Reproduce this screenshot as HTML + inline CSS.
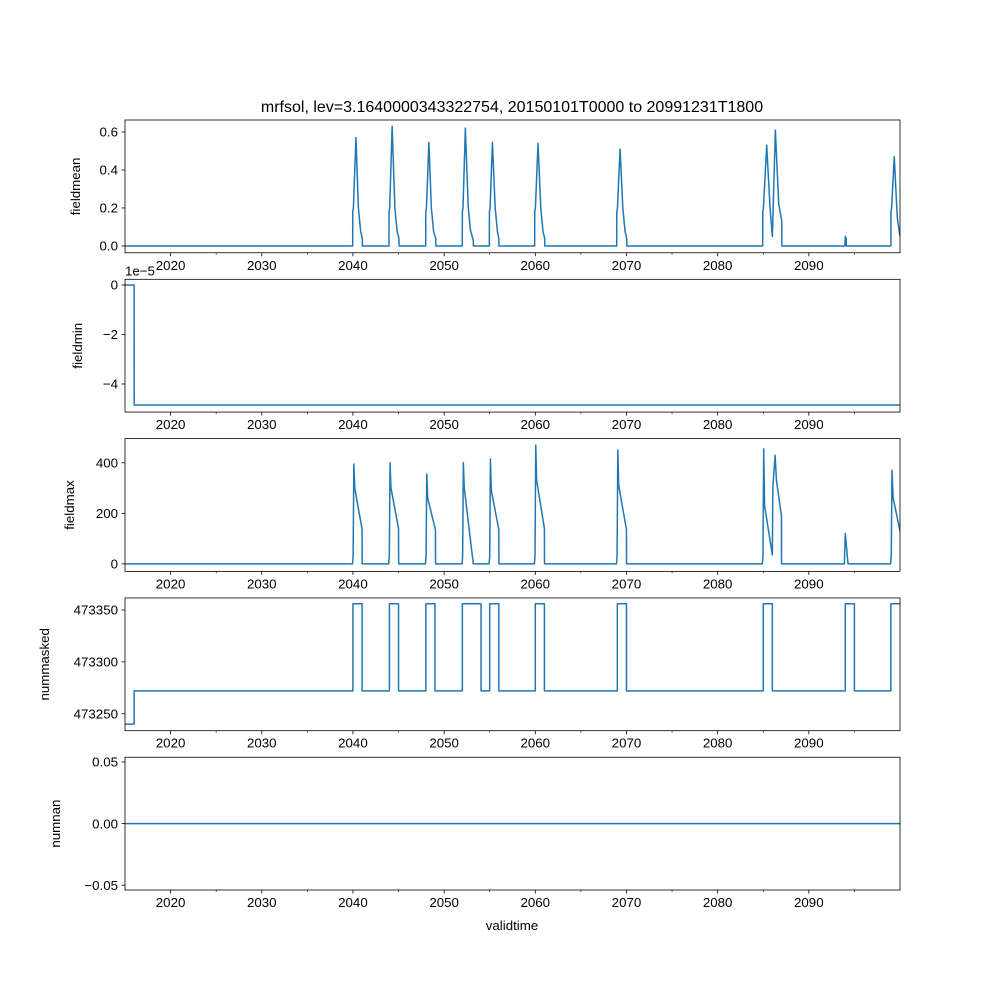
<!DOCTYPE html>
<html><head><meta charset="utf-8"><style>
body{margin:0;background:#fff}
svg{font-family:"Liberation Sans","DejaVu Sans",sans-serif}
</style></head><body>
<svg id="fig" width="1000" height="1000" xmlns="http://www.w3.org/2000/svg">
<text x="512" y="112" text-anchor="middle" font-size="16">mrfsol, lev=3.1640000343322754, 20150101T0000 to 20991231T1800</text>
<text x="512" y="930" text-anchor="middle" font-size="13.3">validtime</text>
</svg>
<script>
// ---- data ----
const xTickYears = [2020, 2030, 2040, 2050, 2060, 2070, 2080, 2090];
const xMinorYears = [2025, 2035, 2045, 2055, 2065, 2075, 2085, 2095];
const panelNames = ["fieldmean", "fieldmin", "fieldmax", "nummasked", "numnan"];
const meanYears = [2015,2039.97,2039.98,2040.05,2040.33,2040.6,2040.85,2041.03,2041.04,
 2043.95,2043.96,2044.03,2044.3,2044.6,2044.85,2045.05,2045.06,
 2047.98,2047.99,2048.06,2048.33,2048.6,2048.85,2049.08,2049.09,
 2051.99,2052.0,2052.07,2052.33,2052.65,2052.9,2053.2,2053.21,
 2054.96,2054.97,2055.04,2055.3,2055.6,2055.85,2056.0,2056.01,
 2059.93,2059.94,2060.01,2060.3,2060.6,2060.85,2061.03,2061.04,
 2068.93,2068.94,2069.01,2069.3,2069.6,2069.85,2070.03,2070.04,
 2084.94,2084.95,2085.02,2085.38,2085.75,2086.0,2086.33,2086.7,2087.03,2087.04,
 2093.95,2094.0,2094.1,2094.11,
 2099.0,2099.01,2099.08,2099.37,2099.7,2100.0];
const meanValues = [0,0,0.18,0.2,0.57,0.2,0.075,0.04,0,
 0,0.18,0.2,0.63,0.2,0.075,0.04,0,
 0,0.18,0.2,0.545,0.2,0.075,0.04,0,
 0,0.18,0.2,0.62,0.2,0.08,0.03,0,
 0,0.18,0.2,0.545,0.2,0.075,0.04,0,
 0,0.18,0.2,0.54,0.2,0.075,0.04,0,
 0,0.18,0.2,0.51,0.2,0.075,0.04,0,
 0,0.18,0.2,0.53,0.2,0.05,0.61,0.22,0.13,0,
 0,0.05,0.04,0,
 0,0.18,0.2,0.47,0.15,0.05];
const minYears = [2015, 2016.0, 2016.01, 2100];
const minValues = [0, 0, -4.85, -4.85];
const maxYears = [2015,2039.95,2040.02,2040.1,2040.2,2041.0,2041.01,
 2043.92,2043.99,2044.07,2044.17,2045.0,2045.01,
 2047.95,2048.02,2048.1,2048.2,2049.05,2049.06,
 2051.96,2052.03,2052.11,2052.21,2053.2,2053.21,
 2054.93,2055.0,2055.08,2055.18,2056.0,2056.01,
 2059.9,2059.97,2060.05,2060.15,2061.0,2061.01,
 2068.9,2068.97,2069.05,2069.15,2070.0,2070.01,
 2084.9,2084.97,2085.05,2085.15,2086.0,2086.05,2086.3,2086.45,2087.0,2087.01,
 2093.9,2094.0,2094.3,2094.31,
 2098.97,2099.04,2099.12,2099.25,2100.0];
const maxValues = [0,0,30,395,300,137,0,
 0,30,400,300,140,0,
 0,30,355,260,135,0,
 0,30,400,300,0,0,
 0,30,415,290,135,0,
 0,30,470,330,140,0,
 0,30,450,310,135,0,
 0,30,455,230,35,300,430,330,190,0,
 0,120,0,0,
 0,30,370,260,130];
const maskedYears = [2015,2016.0,2016.0,2040.0,2040.0,2041.0,2041.0,2044.0,2044.0,2045.0,2045.0,2048.0,2048.0,2049.0,2049.0,2052.0,2052.0,2054.05,2054.05,2055.0,2055.0,2056.0,2056.0,2060.0,2060.0,2061.0,2061.0,2069.0,2069.0,2070.0,2070.0,2085.0,2085.0,2086.0,2086.0,2094.0,2094.0,2095.0,2095.0,2099.0,2099.0,2100];
const maskedValues = [473240,473240,473272,473272,473356,473356,473272,473272,473356,473356,473272,473272,473356,473356,473272,473272,473356,473356,473272,473272,473356,473356,473272,473272,473356,473356,473272,473272,473356,473356,473272,473272,473356,473356,473272,473272,473356,473356,473272,473272,473356,473356];
const nanYears = [2015, 2100];
const nanValues = [0, 0];
const yTicks = [[0.0,0.2,0.4,0.6],[-4,-2,0],[0,200,400],[473250,473300,473350],[-0.05,0.00,0.05]];
const yTickLabels = [["0.0","0.2","0.4","0.6"],["−4","−2","0"],["0","200","400"],["473250","473300","473350"],["−0.05","0.00","0.05"]];
const yDomains = [[-0.0358,0.663],[-5.135,0.23],[-29.8,495.7],[473233.7,473361.6],[-0.0539,0.0539]];

// ---- layout ----
const NS="http://www.w3.org/2000/svg";
const svg=document.getElementById('fig');
const L=125,R=900,T0=120,H=132.76,GAP=26.55;
const xScale=y=>L+(y-2015)/85*(R-L);
function mk(tag,attrs,parent){const e=document.createElementNS(NS,tag);for(const k in attrs)e.setAttribute(k,attrs[k]);(parent||svg).appendChild(e);return e;}
const series=[[meanYears,meanValues],[minYears,minValues],[maxYears,maxValues],[maskedYears,maskedValues],[nanYears,nanValues]];
for(let p=0;p<5;p++){
  const top=T0+p*(H+GAP),bot=top+H;
  const [d0,d1]=yDomains[p];
  const yScale=v=>bot-(v-d0)/(d1-d0)*H;
  const g=mk('g',{});
  
  
  // line
  const [xs,vs]=series[p];
  const pts=xs.map((x,i)=>xScale(x).toFixed(2)+','+yScale(vs[i]).toFixed(2)).join(' ');
  const clipId='clip'+p;
  const cp=mk('clipPath',{id:clipId},g);mk('rect',{x:L,y:top,width:R-L,height:H},cp);
  const line=mk('polyline',{points:pts,fill:'none',stroke:'#1f77b4','stroke-width':1.5,'stroke-linejoin':'round','clip-path':'url(#'+clipId+')'},g);
  
  
  // frame
  const fr=mk('rect',{x:L,y:top,width:R-L,height:H,fill:'none',stroke:'#000','stroke-width':0.8},g);
  
  
  // x ticks
  xTickYears.forEach(yr=>{const x=xScale(yr);mk('line',{x1:x,x2:x,y1:bot,y2:bot+3.5,stroke:'#000','stroke-width':0.8},g);
    const t=mk('text',{x:x,y:bot+17,'text-anchor':'middle','font-size':13.3},g);t.textContent=yr;
    
    });
  xMinorYears.forEach(yr=>{const x=xScale(yr);mk('line',{x1:x,x2:x,y1:bot,y2:bot+2,stroke:'#000','stroke-width':0.6},g);});
  // y ticks
  yTicks[p].forEach((v,i)=>{const y=yScale(v);mk('line',{x1:L-3.5,x2:L,y1:y,y2:y,stroke:'#000','stroke-width':0.8},g);
    const t=mk('text',{x:L-7,y:y+4.7,'text-anchor':'end','font-size':13.3},g);t.textContent=yTickLabels[p][i];
    
    });
  // y label
  const lx=[80,82,74,49,60][p];
  const yl=mk('text',{x:lx,y:top+H/2,'text-anchor':'middle','font-size':13.3,transform:'rotate(-90 '+lx+' '+(top+H/2)+')'},g);
  yl.textContent=panelNames[p];
  
  
  if(p===1){const o=mk('text',{x:L,y:top-4,'font-size':13.3},g);o.textContent='1e−5';
    
    }
}
</script>
</body></html>
